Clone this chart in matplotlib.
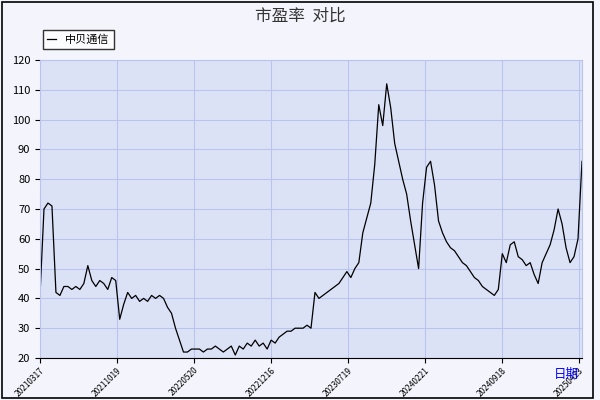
import matplotlib.pyplot as plt
import numpy as np

plt.rcParams['font.family'] = ['Noto Sans CJK SC', 'DejaVu Sans']

pe_values = [41, 70, 72, 71, 42, 41, 44, 44, 43, 44, 43, 45, 51, 46, 44, 46, 45, 43, 47, 46,
             33, 38, 42, 40, 41, 39, 40, 39, 41, 40, 41, 40, 37, 35, 30, 26, 22, 22, 23, 23,
             23, 22, 23, 23, 24, 23, 22, 23, 24, 21, 24, 23, 25, 24, 26, 24, 25, 23, 26, 25,
             27, 28, 29, 29, 30, 30, 30, 31, 30, 42, 40, 41, 42, 43, 44, 45, 47, 49, 47, 50,
             52, 62, 67, 72, 85, 105, 98, 112, 104, 92, 86, 80, 75, 66, 58, 50, 72, 84, 86, 78,
             66, 62, 59, 57, 56, 54, 52, 51, 49, 47, 46, 44, 43, 42, 41, 43, 55, 52, 58, 59,
             54, 53, 51, 52, 48, 45, 52, 55, 58, 63, 70, 65, 57, 52, 54, 60, 86]
tick_labels = ['20210317', '20211019', '20220520', '20221216',
               '20230719', '20240221', '20240918', '20250423']

n = len(pe_values)
x = np.arange(n)
span = (n - 1) * 539 / 542
tick_pos = np.linspace(0, span, len(tick_labels))

fig = plt.figure(figsize=(6, 4), dpi=100, facecolor='#f4f5fc')
ax = fig.add_axes([40 / 600, 42 / 400, 542 / 600, 298 / 400])
ax.set_facecolor('#dce2f6')
ax.plot(x, pe_values, color='black', lw=0.9, label='中贝通信')
ax.set_xlim(0, n - 1)
ax.set_ylim(20, 120)
ax.set_yticks(range(20, 121, 10))
ax.set_xticks(tick_pos)
ax.set_xticklabels(tick_labels, rotation=45, ha='right', va='top', fontsize=6,
                   rotation_mode='anchor')
ax.tick_params(axis='y', labelsize=8)
ax.tick_params(axis='x', pad=2)
ax.grid(color='#b8c4ec', lw=0.8)
for s in ax.spines.values():
    s.set_color('#b8c4ec')
ax.spines['bottom'].set_color('black')

fig.text(0.5, 0.96, '市盈率  对比', ha='center', va='center', fontsize=12, color='#333333')
fig.text(0.965, 0.065, '日期', ha='right', va='center', fontsize=9, color='blue')
ax.legend(loc='upper left', bbox_to_anchor=(-0.005, 1.12), fontsize=8, frameon=True,
          fancybox=False, edgecolor='black', handlelength=0.8)
fig.patches.append(plt.Rectangle((0.003, 0.005), 0.985, 0.99, transform=fig.transFigure,
                                 fill=False, edgecolor='black', lw=1.2))
fig.savefig('out.png', dpi=100, facecolor=fig.get_facecolor())
